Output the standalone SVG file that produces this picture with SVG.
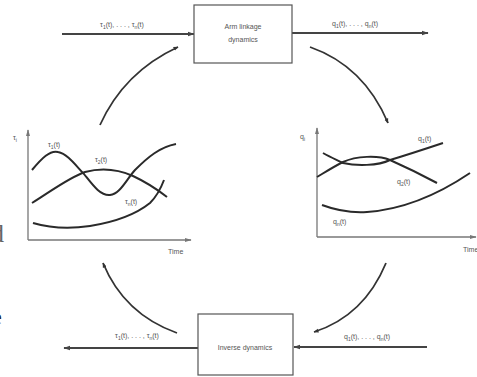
<svg xmlns="http://www.w3.org/2000/svg" width="477" height="377" viewBox="0 0 477 377">
<style>
.box{fill:#fff;stroke:#555;stroke-width:1.2}
.flow{stroke:#444;stroke-width:2;fill:none}
.arc{stroke:#333;stroke-width:1.8;fill:none}
.axis{stroke:#777;stroke-width:1.3;fill:none}
.curve{stroke:#2a2a2a;stroke-width:2;fill:none}
text{font-family:"Liberation Sans",Arial,sans-serif;font-size:7px;fill:#555}
.lbl{text-anchor:middle}
.sub{font-size:5px}
</style>
<defs>
<marker id="ah" viewBox="0 0 10 10" refX="9" refY="5" markerWidth="5" markerHeight="5" orient="auto" markerUnits="userSpaceOnUse">
<path d="M0,1 L10,5 L0,9 Z" fill="#333"/>
</marker>
<marker id="ahs" viewBox="0 0 10 10" refX="9" refY="5" markerWidth="7" markerHeight="7" orient="auto" markerUnits="userSpaceOnUse">
<path d="M0,1.5 L10,5 L0,8.5 Z" fill="#444"/>
</marker>
<marker id="ax" viewBox="0 0 10 10" refX="9" refY="5" markerWidth="7" markerHeight="7" orient="auto" markerUnits="userSpaceOnUse">
<path d="M0,2 L10,5 L0,8 Z" fill="#777"/>
</marker>
</defs>

<g id="connectors">
<line class="flow" x1="62" y1="34" x2="194" y2="34" marker-end="url(#ahs)"/>
<line class="flow" x1="292" y1="33" x2="428" y2="33" marker-end="url(#ahs)"/>
<line class="flow" x1="198" y1="348" x2="64" y2="348" marker-end="url(#ahs)"/>
<line class="flow" x1="427" y1="347" x2="294" y2="347" marker-end="url(#ahs)"/>
<path class="arc" d="M100,125 Q124,72 178,47" marker-end="url(#ah)"/>
<path class="arc" d="M310,47 Q364,66 388,123" marker-end="url(#ah)"/>
<path class="arc" d="M386,263 Q364,316 314,332" marker-end="url(#ah)"/>
<path class="arc" d="M177,333 Q124,314 103,263" marker-end="url(#ah)"/>
<text class="lbl" x="122" y="27">τ<tspan class="sub" dy="1.5">1</tspan><tspan dy="-1.5">(t), . . . , τ</tspan><tspan class="sub" dy="1.5">n</tspan><tspan dy="-1.5">(t)</tspan></text>
<text class="lbl" x="355" y="26">q<tspan class="sub" dy="1.5">1</tspan><tspan dy="-1.5">(t), . . . , q</tspan><tspan class="sub" dy="1.5">n</tspan><tspan dy="-1.5">(t)</tspan></text>
<text class="lbl" x="137" y="338">τ<tspan class="sub" dy="1.5">1</tspan><tspan dy="-1.5">(t), . . . , τ</tspan><tspan class="sub" dy="1.5">n</tspan><tspan dy="-1.5">(t)</tspan></text>
<text class="lbl" x="367" y="339">q<tspan class="sub" dy="1.5">1</tspan><tspan dy="-1.5">(t), . . . , q</tspan><tspan class="sub" dy="1.5">n</tspan><tspan dy="-1.5">(t)</tspan></text>
</g>

<g id="arm-linkage-dynamics">
<rect class="box" x="194" y="5" width="98" height="58"/>
<text class="lbl" x="243" y="29">Arm linkage</text>
<text class="lbl" x="243" y="42">dynamics</text>
</g>

<g id="inverse-dynamics">
<rect class="box" x="198" y="314" width="95" height="61"/>
<text class="lbl" x="245" y="350">Inverse dynamics</text>
</g>

<g id="torque-graph">
<line class="axis" x1="28" y1="240" x2="28" y2="130" marker-end="url(#ax)"/>
<line class="axis" x1="28" y1="240" x2="191" y2="240" marker-end="url(#ax)"/>
<text x="13" y="140">τ<tspan class="sub" dy="1.5">i</tspan></text>
<text x="168" y="254">Time</text>
<path class="curve" d="M32,170 C42,158 50,150 58,152 C68,154 76,166 84,174 C92,184 100,196 110,195 C120,194 126,180 135,170 C148,157 160,147 176,144"/>
<path class="curve" d="M32,203 C50,192 68,178 85,172 C100,168 115,168 133,176 C148,183 158,190 167,197"/>
<path class="curve" d="M33,223 C50,228 70,229 90,226 C115,222 135,215 150,203 C157,196 161,188 164,180"/>
<text x="48" y="147">τ<tspan class="sub" dy="1.5">1</tspan><tspan dy="-1.5">(t)</tspan></text>
<text x="95" y="162">τ<tspan class="sub" dy="1.5">2</tspan><tspan dy="-1.5">(t)</tspan></text>
<text x="125" y="204">τ<tspan class="sub" dy="1.5">n</tspan><tspan dy="-1.5">(t)</tspan></text>
</g>

<g id="position-graph">
<line class="axis" x1="317" y1="237" x2="317" y2="128" marker-end="url(#ax)"/>
<line class="axis" x1="317" y1="237" x2="476" y2="237" marker-end="url(#ax)"/>
<text x="300" y="139">q<tspan class="sub" dy="1.5">i</tspan></text>
<text x="463" y="252">Time</text>
<path class="curve" d="M317,177 C327,171 335,166 343,162 C356,156 378,155 390,160 C410,154 428,148 443,143"/>
<path class="curve" d="M323,153 C330,157 337,160 343,163 C356,166 378,166 390,160 C408,168 424,176 437,183"/>
<path class="curve" d="M322,205 C338,211 352,213 367,212 C395,210 430,200 470,173"/>
<text x="418" y="141">q<tspan class="sub" dy="1.5">1</tspan><tspan dy="-1.5">(t)</tspan></text>
<text x="397" y="184">q<tspan class="sub" dy="1.5">2</tspan><tspan dy="-1.5">(t)</tspan></text>
<text x="333" y="224">q<tspan class="sub" dy="1.5">n</tspan><tspan dy="-1.5">(t)</tspan></text>
</g>

<text x="-9" y="242" style="font-family:'Liberation Serif',serif;font-size:26px;fill:#666">d</text>
<text x="-8" y="324" style="font-family:'Liberation Serif',serif;font-size:22px;fill:#222">e</text>
</svg>
